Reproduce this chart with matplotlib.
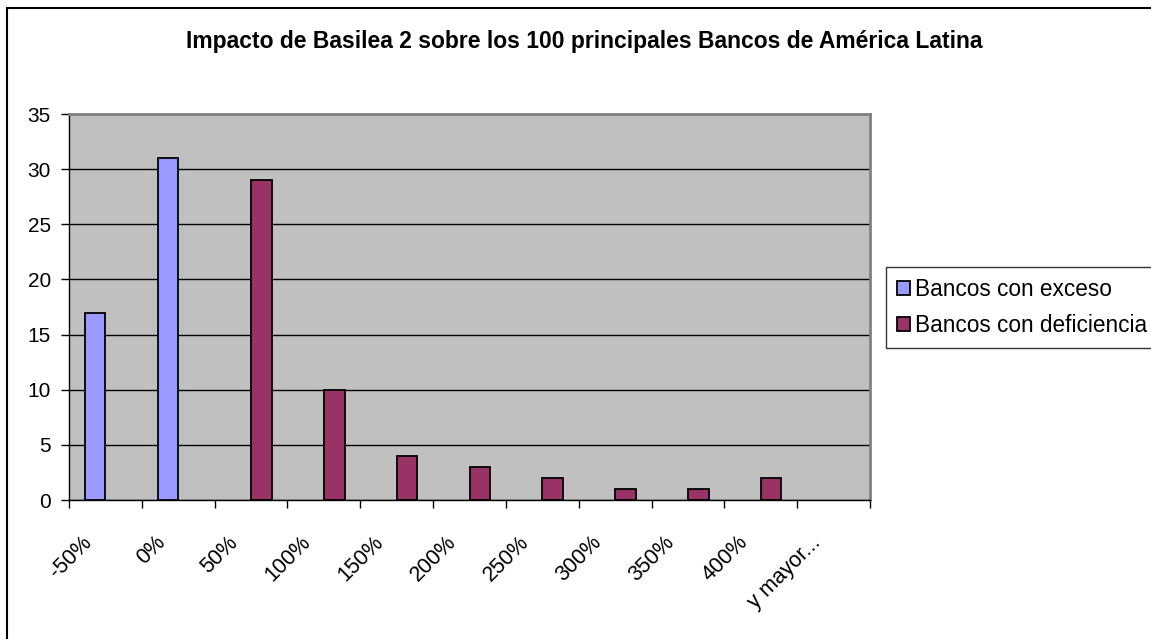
import matplotlib
matplotlib.use("Agg")
import matplotlib.pyplot as plt
import matplotlib.patches as mpatches
from matplotlib.transforms import ScaledTranslation
import numpy as np

plt.rcParams['font.family'] = ['Liberation Sans', 'DejaVu Sans']

title = "Impacto de Basilea 2 sobre los 100 principales Bancos de América Latina"
categories = ["-50%", "0%", "50%", "100%", "150%", "200%", "250%", "300%", "350%", "400%", "y mayor..."]
exceso = [17, 31, 0, 0, 0, 0, 0, 0, 0, 0, 0]
deficiencia = [0, 0, 29, 10, 4, 3, 2, 1, 1, 2, 0]
series_names = ["Bancos con exceso", "Bancos con deficiencia"]
series_colors = ["#9999FF", "#993366"]
yticks = [0, 5, 10, 15, 20, 25, 30, 35]

W, H = 1151, 639
fig = plt.figure(figsize=(W / 100, H / 100), dpi=100)
fig.patch.set_facecolor("white")

# outer chart frame (extends past right/bottom edges)
fig.patches.append(mpatches.Rectangle((6.5 / W, -0.2), 1.5, 1 - 8.5 / H + 0.2,
                                      transform=fig.transFigure, fill=False,
                                      edgecolor="black", linewidth=1.5))

ax = fig.add_axes([69 / W, 1 - 500 / H, (870 - 69) / W, (500 - 114) / H])
ax.set_facecolor("#C0C0C0")

x = np.arange(len(categories))
bw = 0.284
b1 = ax.bar(x, exceso, width=-bw, align="edge", color=series_colors[0], edgecolor="black",
            linewidth=1.3, zorder=3)
b2 = ax.bar(x, deficiencia, width=bw, align="edge", color=series_colors[1], edgecolor="black",
            linewidth=1.3, zorder=3)
for container, vals in ((b1, exceso), (b2, deficiencia)):
    for patch, v in zip(container.patches, vals):
        if v == 0:
            patch.set_visible(False)

ax.set_xlim(-0.5, len(categories) - 0.5)
ax.set_ylim(0, 35)
ax.set_yticks(yticks)
ax.set_yticklabels([str(v) for v in yticks], fontsize=15)
ax.yaxis.grid(True, color="black", linewidth=1, zorder=1)
ax.set_axisbelow(True)

ax.set_xticks(x)
ax.set_xticklabels(categories, rotation=45, ha="right", va="top", fontsize=15.5)
ax.set_xticks(np.arange(len(categories) + 1) - 0.5, minor=True)
ax.tick_params(axis="x", which="major", length=0, pad=23)
ax.tick_params(axis="x", which="minor", length=6, width=1, direction="out", color="black")
ax.tick_params(axis="y", length=6, width=1, direction="out", pad=7, color="black")
for lbl in ax.get_xticklabels():
    lbl.set_transform(lbl.get_transform() + ScaledTranslation(-9 / 100, 0, fig.dpi_scale_trans))

for s in ["top", "right"]:
    ax.spines[s].set_color("#808080")
    ax.spines[s].set_linewidth(2)
for s in ["left", "bottom"]:
    ax.spines[s].set_color("black")
    ax.spines[s].set_linewidth(1)

fig.text(584.5 / W, 1 - 48.3 / H, title, ha="center", va="baseline",
         fontsize=16.5, fontweight="bold")

handles = [mpatches.Patch(facecolor=c, edgecolor="black", linewidth=1.3) for c in series_colors]
leg = fig.legend(handles=handles, labels=series_names, loc="upper left",
                 bbox_to_anchor=(886 / W, 1 - 267 / H), fontsize=16.3, frameon=True,
                 fancybox=False, shadow=False, handlelength=0.55, handleheight=0.55,
                 handletextpad=0.25, borderpad=0.5, labelspacing=0.55, borderaxespad=0)
leg.get_frame().set_edgecolor("black")
leg.get_frame().set_linewidth(1)

fig.savefig("out.png", dpi=100)
